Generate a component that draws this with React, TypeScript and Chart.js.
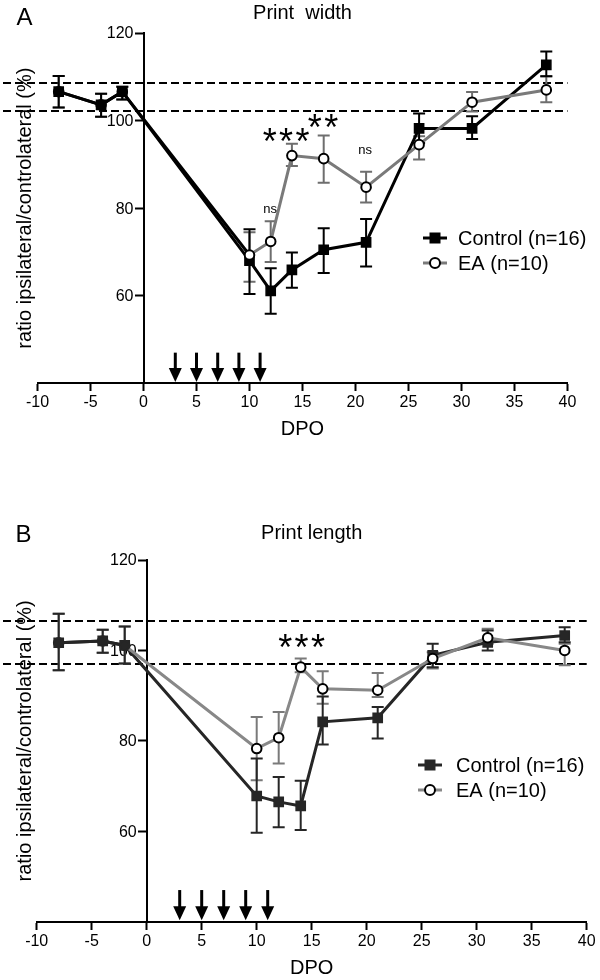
import React, { useEffect, useRef } from 'react';
import { Chart, registerables } from 'chart.js';

Chart.register(...registerables);

const FONT = '"Liberation Sans", Arial, Helvetica, sans-serif';

// ---------- shared ----------
const yTickValues = [60, 80, 100, 120];
const arrowDays = [3, 5, 7, 9, 11];
const arrowTop = 47;
const arrowTip = 40.3;
const legendLabels = ['Control (n=16)', 'EA (n=10)'];
const yTitle = 'ratio ipsilateral/controlateral (%)';
const xTitle = 'DPO';

// ---------- Panel A : Print width ----------
const daysA = [-8, -4, -2, 10, 12, 14, 17, 21, 26, 31, 38];
const ctrlA = [106.6, 103.6, 106.6, 68.0, 61.1, 65.9, 70.5, 72.2, 98.2, 98.2, 112.7];
const ctrlAHi = [110.2, 106.1, 107.7, 75.2, 66.3, 69.9, 75.4, 77.5, 101.6, 101.0, 115.8];
const ctrlALo = [103.0, 100.9, 104.8, 60.4, 55.9, 61.8, 65.2, 66.7, 94.9, 95.8, 110.1];
const eaA = [106.6, 103.6, 106.6, 69.3, 72.4, 92.0, 91.3, 84.8, 94.5, 104.2, 107.0];
const eaAHi = [110.2, 106.1, 107.7, 74.5, 77.0, 94.7, 96.6, 88.3, 96.4, 106.5, 110.1];
const eaALo = [103.0, 100.9, 104.8, 63.2, 67.7, 89.6, 85.8, 81.3, 91.1, 102.1, 104.2];
const refLinesA = [108.6, 102.3];
const notesA = [
  { text: '***', x: 13.45, y: 96.8, kind: 'star' },
  { text: '**', x: 16.93, y: 100.0, kind: 'star' },
  { text: 'ns', x: 11.95, y: 79.8, kind: 'ns' },
  { text: 'ns', x: 20.9, y: 93.2, kind: 'ns' },
];

// ---------- Panel B : Print length ----------
const daysB = [-8, -4, -2, 10, 12, 14, 16, 21, 26, 31, 38];
const ctrlB = [101.7, 102.1, 101.1, 67.8, 66.5, 65.6, 84.2, 85.1, 98.9, 101.8, 103.3];
const ctrlBHi = [108.1, 104.6, 105.3, 76.1, 72.0, 71.2, 89.8, 87.5, 101.5, 104.4, 105.1];
const ctrlBLo = [95.6, 99.5, 97.1, 59.7, 60.9, 60.3, 79.2, 80.5, 96.3, 100.0, 101.8];
const eaB = [101.7, 102.1, 101.1, 78.3, 80.7, 96.3, 91.5, 91.2, 98.2, 102.8, 100.0];
const eaBHi = [108.1, 104.6, 105.3, 85.3, 86.4, 98.2, 95.4, 95.0, 99.6, 104.8, 101.5];
const eaBLo = [95.6, 99.5, 97.1, 71.3, 75.0, 95.2, 88.2, 89.7, 96.0, 101.5, 96.7];
const refLinesB = [106.5, 97.0];
const notesB = [{ text: '***', x: 14.08, y: 102.0, kind: 'star' }];

type Note = { text: string; x: number; y: number; kind: string };
type Panel = {
  letter: string;
  title: string;
  days: number[];
  ctrl: number[];
  ctrlHi: number[];
  ctrlLo: number[];
  ea: number[];
  eaHi: number[];
  eaLo: number[];
  refLines: number[];
  notes: Note[];
  ctrlColor: string;
  eaColor: string;
  eaBarColor: string;
  hideEaFromPre: boolean;
  pad: { left: number; right: number; top: number; bottom: number };
  letterPos: [number, number];
  titleBaseline: number;
  legend: { seg0: number; seg1: number; text: number; ys: number[] };
};

const panelA: Panel = {
  letter: 'A',
  title: 'Print  width',
  days: daysA,
  ctrl: ctrlA,
  ctrlHi: ctrlAHi,
  ctrlLo: ctrlALo,
  ea: eaA,
  eaHi: eaAHi,
  eaLo: eaALo,
  refLines: refLinesA,
  notes: notesA,
  ctrlColor: '#000000',
  eaColor: '#7a7a7a',
  eaBarColor: '#6e6e6e',
  hideEaFromPre: true,
  pad: { left: 37.5, right: 32.5, top: 33, bottom: 106.7 },
  letterPos: [24.5, 25],
  titleBaseline: 18.5,
  legend: { seg0: 423, seg1: 447, text: 458, ys: [238, 263] },
};

const panelB: Panel = {
  letter: 'B',
  title: 'Print length',
  days: daysB,
  ctrl: ctrlB,
  ctrlHi: ctrlBHi,
  ctrlLo: ctrlBLo,
  ea: eaB,
  eaHi: eaBHi,
  eaLo: eaBLo,
  refLines: refLinesB,
  notes: notesB,
  ctrlColor: '#262626',
  eaColor: '#888888',
  eaBarColor: '#7a7a7a',
  hideEaFromPre: false,
  pad: { left: 36.7, right: 13.3, top: 70, bottom: 58.3 },
  letterPos: [23.5, 51.5],
  titleBaseline: 49,
  legend: { seg0: 418, seg1: 442, text: 456, ys: [275, 300] },
};

function drawCentered(ctx: CanvasRenderingContext2D, text: string, cx: number, cy: number) {
  ctx.textAlign = 'center';
  ctx.textBaseline = 'alphabetic';
  const m = ctx.measureText(text);
  const base = cy + (m.actualBoundingBoxAscent - m.actualBoundingBoxDescent) / 2;
  ctx.fillText(text, cx, base);
}

function makePlugin(p: Panel) {
  return {
    id: 'extras',
    beforeDatasetsDraw(chart: any) {
      const { ctx, chartArea } = chart;
      const xs = chart.scales.x;
      const ys = chart.scales.y;
      ctx.save();
      // dashed reference lines
      ctx.setLineDash([8, 4]);
      ctx.lineWidth = 2;
      ctx.strokeStyle = '#000';
      p.refLines.forEach((v) => {
        const py = Math.round(ys.getPixelForValue(v));
        ctx.beginPath();
        ctx.moveTo(3, py);
        ctx.lineTo(chartArea.right, py);
        ctx.stroke();
      });
      ctx.setLineDash([]);
      // arrows
      ctx.fillStyle = '#000';
      ctx.strokeStyle = '#000';
      arrowDays.forEach((d) => {
        const px = xs.getPixelForValue(d);
        const yt = ys.getPixelForValue(arrowTop);
        const yb = ys.getPixelForValue(arrowTip);
        ctx.lineWidth = 3;
        ctx.beginPath();
        ctx.moveTo(px, yt);
        ctx.lineTo(px, yb - 10);
        ctx.stroke();
        ctx.beginPath();
        ctx.moveTo(px - 6.5, yb - 14);
        ctx.lineTo(px + 6.5, yb - 14);
        ctx.lineTo(px, yb);
        ctx.closePath();
        ctx.fill();
      });
      // y tick labels, placed left of the axis line
      ctx.font = `16px ${FONT}`;
      ctx.fillStyle = '#000';
      ctx.textAlign = 'right';
      ctx.textBaseline = 'middle';
      const ax = xs.getPixelForValue(0);
      ys.ticks.forEach((t: any) => {
        ctx.fillText(String(t.value), ax - 10, ys.getPixelForValue(t.value) + 1);
      });
      // error bars (EA first, control on top)
      const sets = [
        { hi: p.eaHi, lo: p.eaLo, color: p.eaBarColor },
        { hi: p.ctrlHi, lo: p.ctrlLo, color: p.ctrlColor },
      ];
      sets.forEach((s) => {
        ctx.strokeStyle = s.color;
        ctx.lineWidth = 2;
        p.days.forEach((d, i) => {
          const px = xs.getPixelForValue(d);
          const yh = ys.getPixelForValue(s.hi[i]);
          const yl = ys.getPixelForValue(s.lo[i]);
          ctx.beginPath();
          ctx.moveTo(px, yh);
          ctx.lineTo(px, yl);
          ctx.moveTo(px - 6, yh);
          ctx.lineTo(px + 6, yh);
          ctx.moveTo(px - 6, yl);
          ctx.lineTo(px + 6, yl);
          ctx.stroke();
        });
      });
      ctx.restore();
    },
    afterDatasetsDraw(chart: any) {
      const { ctx, chartArea } = chart;
      const xs = chart.scales.x;
      const ys = chart.scales.y;
      ctx.save();
      ctx.fillStyle = '#000';
      // significance notes
      p.notes.forEach((n) => {
        const cx = xs.getPixelForValue(n.x);
        const cy = ys.getPixelForValue(n.y);
        if (n.kind === 'star') {
          ctx.font = `36px ${FONT}`;
          const chars = n.text.split('');
          const sp = 16.4;
          chars.forEach((c, i) => {
            drawCentered(ctx, c, cx + (i - (chars.length - 1) / 2) * sp, cy);
          });
        } else {
          ctx.font = `13px ${FONT}`;
          drawCentered(ctx, n.text, cx, cy);
        }
      });
      // legend
      const L = p.legend;
      const cols = [p.ctrlColor, p.eaColor];
      L.ys.forEach((y, i) => {
        ctx.strokeStyle = cols[i];
        ctx.lineWidth = 3;
        ctx.beginPath();
        ctx.moveTo(L.seg0, y);
        ctx.lineTo(L.seg1, y);
        ctx.stroke();
        const mx = (L.seg0 + L.seg1) / 2;
        if (i === 0) {
          ctx.fillStyle = p.ctrlColor;
          ctx.fillRect(mx - 5.5, y - 5.5, 11, 11);
        } else {
          ctx.fillStyle = '#fff';
          ctx.strokeStyle = '#000';
          ctx.lineWidth = 2;
          ctx.beginPath();
          ctx.arc(mx, y, 5, 0, Math.PI * 2);
          ctx.fill();
          ctx.stroke();
        }
        ctx.fillStyle = '#000';
        ctx.font = `20px ${FONT}`;
        ctx.textAlign = 'left';
        ctx.textBaseline = 'middle';
        ctx.fillText(legendLabels[i], L.text, y + 1);
      });
      // panel letter
      ctx.font = `24px ${FONT}`;
      ctx.textAlign = 'center';
      ctx.textBaseline = 'alphabetic';
      ctx.fillText(p.letter, p.letterPos[0], p.letterPos[1]);
      // title
      ctx.font = `20px ${FONT}`;
      ctx.fillText(p.title, (chartArea.left + chartArea.right) / 2, p.titleBaseline);
      // x title
      ctx.fillText(xTitle, (chartArea.left + chartArea.right) / 2, ys.getPixelForValue(40) + 52);
      // y title
      ctx.save();
      ctx.translate(25, (chartArea.top + chartArea.bottom) / 2);
      ctx.rotate(-Math.PI / 2);
      ctx.textAlign = 'center';
      ctx.textBaseline = 'middle';
      ctx.font = `20px ${FONT}`;
      ctx.fillText(yTitle, 0, 0);
      ctx.restore();
      ctx.restore();
    },
  };
}

function buildConfig(p: Panel): any {
  const pre = p.days.map((d) => d < 0);
  return {
    type: 'line',
    data: {
      datasets: [
        {
          label: legendLabels[1],
          data: p.days.map((d, i) => ({ x: d, y: p.ea[i] })),
          borderColor: p.eaColor,
          borderWidth: 3,
          tension: 0,
          fill: false,
          segment: {
            borderColor: (c: any) => {
              const hidden = p.hideEaFromPre ? c.p0.parsed.x < 0 : c.p1.parsed.x < 0;
              return hidden ? p.ctrlColor : p.eaColor;
            },
          },
          pointStyle: 'circle',
          pointRadius: 4.8,
          pointBorderWidth: 2,
          pointBackgroundColor: pre.map((b) => (b ? p.ctrlColor : '#ffffff')),
          pointBorderColor: pre.map((b) => (b ? p.ctrlColor : '#000000')),
          order: 0,
        },
        {
          label: legendLabels[0],
          data: p.days.map((d, i) => ({ x: d, y: p.ctrl[i] })),
          borderColor: p.ctrlColor,
          borderWidth: 3,
          tension: 0,
          fill: false,
          pointStyle: 'rect',
          pointRadius: 6.5,
          pointBorderWidth: 1.5,
          pointBackgroundColor: p.ctrlColor,
          pointBorderColor: p.ctrlColor,
          order: 1,
        },
      ],
    },
    options: {
      animation: false,
      responsive: false,
      devicePixelRatio: 1,
      events: [],
      layout: { padding: p.pad },
      plugins: { legend: { display: false }, tooltip: { enabled: false }, title: { display: false } },
      scales: {
        x: {
          type: 'linear',
          position: { y: 40 },
          min: -10,
          max: 40,
          ticks: {
            stepSize: 5,
            color: '#000',
            font: { size: 16, family: FONT },
            padding: 3,
            maxRotation: 0,
            autoSkip: false,
          },
          grid: { drawOnChartArea: false, drawTicks: true, tickLength: 7, color: '#000', tickWidth: 2 },
          border: { display: true, color: '#000', width: 2 },
        },
        y: {
          type: 'linear',
          position: { x: 0 },
          min: 40,
          max: 120,
          afterBuildTicks: (scale: any) => {
            scale.ticks = yTickValues.map((v) => ({ value: v }));
          },
          ticks: { display: false },
          grid: { drawOnChartArea: false, drawTicks: true, tickLength: 8, color: '#000', tickWidth: 2 },
          border: { display: true, color: '#000', width: 2 },
        },
      },
    },
    plugins: [makePlugin(p)],
  };
}

function PanelChart({ panel, top }: { panel: Panel; top: number }) {
  const ref = useRef<HTMLCanvasElement>(null);
  useEffect(() => {
    if (!ref.current) return;
    const chart = new Chart(ref.current, buildConfig(panel));
    return () => chart.destroy();
  }, [panel]);
  return (
    <canvas
      ref={ref}
      width={600}
      height={490}
      style={{ position: 'absolute', left: 0, top, width: 600, height: 490 }}
    />
  );
}

export default function App() {
  return (
    <div style={{ position: 'absolute', left: 0, top: 0, width: 600, height: 980, background: '#fff' }}>
      <PanelChart panel={panelA} top={0} />
      <PanelChart panel={panelB} top={490} />
    </div>
  );
}
